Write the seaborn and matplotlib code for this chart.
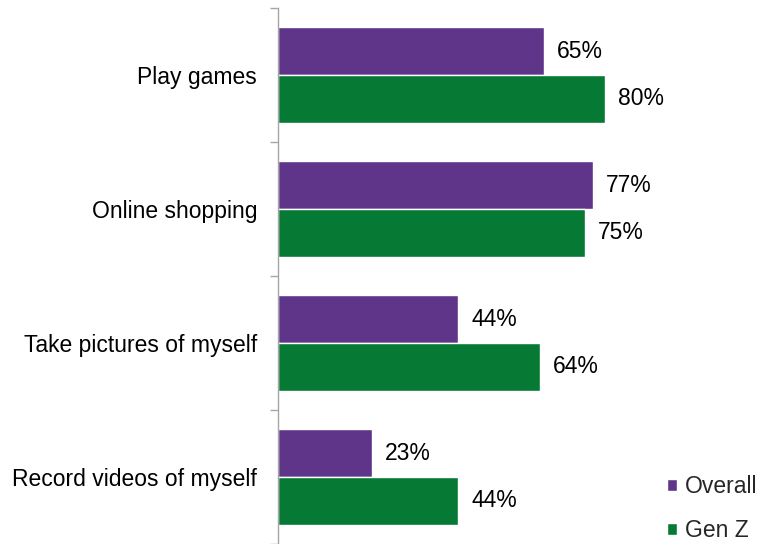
import matplotlib
matplotlib.use("Agg")
import matplotlib.pyplot as plt
import seaborn as sns
import pandas as pd
from matplotlib.ticker import FixedLocator

# Share of respondents doing each activity
activities = ["Play games", "Online shopping", "Take pictures of myself", "Record videos of myself"]
overall = [65, 77, 44, 23]
gen_z = [80, 75, 64, 44]
series_names = ["Overall", "Gen Z"]
palette = {"Overall": "#5f358a", "Gen Z": "#067a35"}

df = pd.DataFrame({
    "activity": activities * 2,
    "share": overall + gen_z,
    "group": [series_names[0]] * len(activities) + [series_names[1]] * len(activities),
})

sns.set_theme(style="white")
plt.rcParams["font.family"] = ["Liberation Sans", "DejaVu Sans"]

fig = plt.figure(figsize=(7.76, 5.44), dpi=100)
ax = fig.add_axes([278 / 776, 0.0, 409 / 776, 536 / 544])

sns.barplot(
    data=df, x="share", y="activity", hue="group", orient="h",
    order=activities, hue_order=series_names, palette=palette,
    width=0.71, edgecolor="white", linewidth=1.0, saturation=1, ax=ax,
)

ax.set_xlim(0, 100)
ax.set_ylim(len(activities) - 0.5, -0.5)
ax.set_xlabel("")
ax.set_ylabel("")
ax.set_xticks([])

# Category labels, with boundary ticks between groups
ax.tick_params(axis="y", which="major", length=0, pad=15, labelsize=16.5, labelcolor="black")
ax.yaxis.set_minor_locator(FixedLocator([i - 0.5 for i in range(len(activities) + 1)]))
ax.tick_params(axis="y", which="minor", length=5.5, width=1, color="#a6a6a6", left=True)

for side in ["top", "right", "bottom"]:
    ax.spines[side].set_visible(False)
ax.spines["left"].set_color("#a6a6a6")
ax.spines["left"].set_linewidth(1)

for container in ax.containers:
    ax.bar_label(container, fmt="{:.0f}%", padding=9.5, fontsize=16.5, color="black")

handles, labels = ax.get_legend_handles_labels()
ax.legend_.remove()
fig.legend(
    handles, labels, loc="lower left", bbox_to_anchor=(651 / 776, -14 / 544),
    frameon=False, fontsize=16.5, handlelength=0.42, handleheight=0.42,
    handletextpad=0.35, labelspacing=0.9, borderpad=0.2,
)

fig.savefig("out.png", dpi=100)
